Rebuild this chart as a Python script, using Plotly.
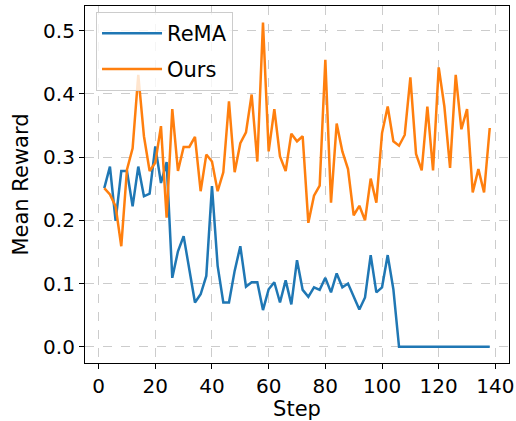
import plotly.graph_objects as go

steps = list(range(2, 140, 2))

rema = [0.251, 0.285, 0.199, 0.278, 0.278, 0.222, 0.285, 0.238, 0.242, 0.317,
        0.259, 0.292, 0.109, 0.151, 0.175, 0.123, 0.070, 0.083, 0.112, 0.254,
        0.128, 0.070, 0.070, 0.120, 0.159, 0.095, 0.102, 0.102, 0.058, 0.091,
        0.102, 0.070, 0.105, 0.067, 0.137, 0.090, 0.079, 0.094, 0.090, 0.109,
        0.086, 0.116, 0.094, 0.100, 0.079, 0.059, 0.078, 0.145, 0.086, 0.094,
        0.145, 0.091, 0.0, 0.0, 0.0, 0.0, 0.0, 0.0, 0.0, 0.0,
        0.0, 0.0, 0.0, 0.0, 0.0, 0.0, 0.0, 0.0, 0.0]

ours = [0.251, 0.241, 0.222, 0.159, 0.280, 0.314, 0.430, 0.333, 0.278, 0.291,
        0.349, 0.204, 0.376, 0.278, 0.316, 0.316, 0.332, 0.246, 0.304, 0.293,
        0.246, 0.276, 0.388, 0.276, 0.322, 0.339, 0.399, 0.293, 0.513, 0.309,
        0.376, 0.301, 0.278, 0.337, 0.325, 0.333, 0.196, 0.239, 0.255, 0.454,
        0.228, 0.353, 0.309, 0.281, 0.208, 0.223, 0.200, 0.266, 0.228, 0.338,
        0.380, 0.325, 0.318, 0.335, 0.426, 0.305, 0.279, 0.380, 0.279, 0.442,
        0.380, 0.283, 0.430, 0.344, 0.376, 0.244, 0.281, 0.244, 0.346]

x_ticks = [0, 20, 40, 60, 80, 100, 120, 140]
y_ticks = [0.0, 0.1, 0.2, 0.3, 0.4, 0.5]
y_tick_labels = ["0.0", "0.1", "0.2", "0.3", "0.4", "0.5"]

FONT = "DejaVu Sans"

fig = go.Figure()
fig.add_trace(go.Scatter(x=steps, y=rema, mode="lines", name="ReMA",
                         line=dict(color="#1f77b4", width=2.5),
                         legendgroup="a"))
fig.add_trace(go.Scatter(x=steps, y=ours, mode="lines", name="Ours",
                         line=dict(color="#ff7f0e", width=2.5),
                         legendgroup="b"))

axis_common = dict(
    showline=True, linecolor="black", linewidth=1.2, mirror=True,
    ticks="outside", ticklen=5, tickwidth=1.2, tickcolor="black",
    showgrid=True, gridcolor="#cccccc", griddash="dash", gridwidth=1,
    zeroline=False, automargin=False,
    tickfont=dict(family=FONT, size=20, color="black"),
)

fig.update_xaxes(range=[-4.8, 144.8], tickvals=x_ticks,
                 title=dict(text="Step", font=dict(family=FONT, size=21, color="black"),
                            standoff=6),
                 **axis_common)
fig.update_yaxes(range=[-0.0257, 0.539], tickvals=y_ticks, ticktext=y_tick_labels,
                 title=dict(text="Mean Reward", font=dict(family=FONT, size=21, color="black"),
                            standoff=8),
                 **axis_common)

fig.update_layout(
    width=516, height=421,
    margin=dict(l=85, r=7, t=6, b=58, autoexpand=False),
    plot_bgcolor="white", paper_bgcolor="white",
    font=dict(family=FONT, color="black"),
    legend=dict(x=0.026, y=0.983, xanchor="left", yanchor="top",
                bgcolor="rgba(255,255,255,0.8)", bordercolor="#cccccc", borderwidth=1,
                font=dict(family=FONT, size=21, color="black"),
                traceorder="grouped", tracegroupgap=5.5,
                itemwidth=60),
)

fig.write_html("out.html")
